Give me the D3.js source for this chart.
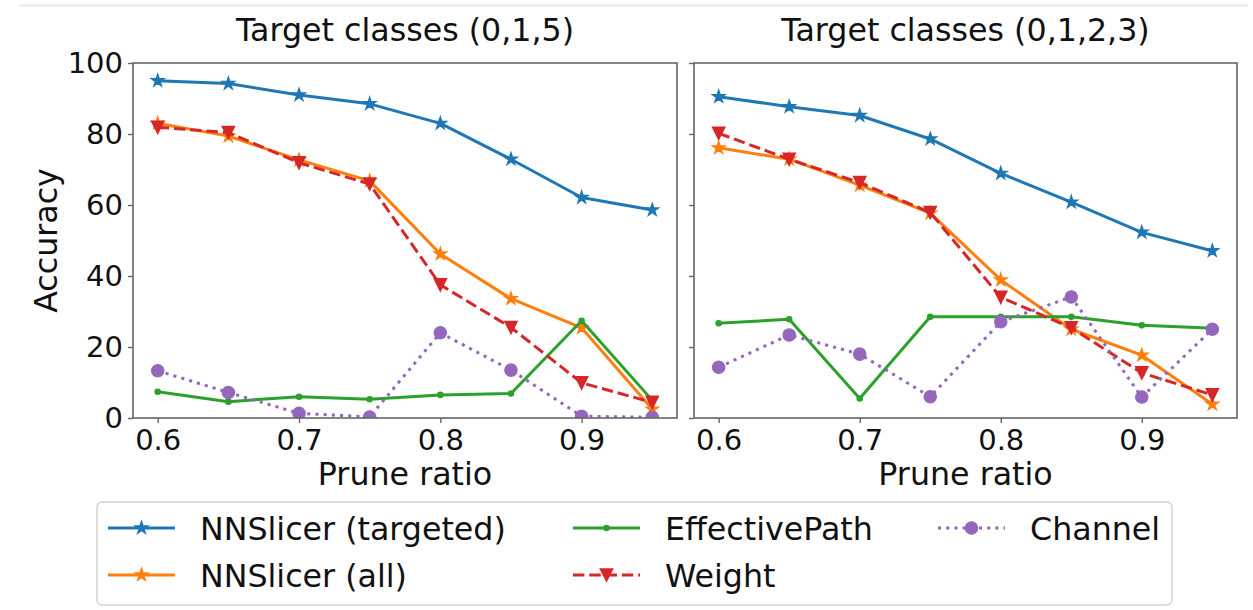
<!DOCTYPE html>
<html>
<head>
<meta charset="utf-8">
<script src="https://cdn.jsdelivr.net/npm/d3@7"></script>
<style>
  html, body { margin: 0; padding: 0; background: #fff; }
  svg { display: block; font-family: "DejaVu Sans", sans-serif; }
</style>
</head>
<body>
<svg id="chart" width="1253" height="610"></svg>
<script>
// ---------------- data ----------------
const pruneRatios = [0.6, 0.65, 0.7, 0.75, 0.8, 0.85, 0.9, 0.95];
const xTicks = [0.6, 0.7, 0.8, 0.9];
const yTicks = [0, 20, 40, 60, 80, 100];
const seriesNames = ["NNSlicer (targeted)", "NNSlicer (all)", "EffectivePath", "Weight", "Channel"];
const panelTitles = ["Target classes (0,1,5)", "Target classes (0,1,2,3)"];

// Panel 1: target classes (0,1,5)
const p1Targeted  = [95.0, 94.2, 91.0, 88.5, 83.0, 72.9, 62.1, 58.6];
const p1All       = [83.0, 79.4, 72.7, 66.8, 46.2, 33.6, 25.4, 2.5];
const p1Effective = [7.4, 4.6, 6.0, 5.3, 6.5, 6.9, 27.4, 5.0];
const p1Weight    = [81.9, 80.4, 71.9, 65.9, 37.5, 25.5, 9.9, 4.4];
const p1Channel   = [13.3, 7.2, 1.3, 0.3, 24.0, 13.5, 0.5, 0.2];

// Panel 2: target classes (0,1,2,3)
const p2Targeted  = [90.5, 87.7, 85.2, 78.6, 68.9, 60.8, 52.3, 47.1];
const p2All       = [76.1, 72.9, 65.6, 57.7, 38.9, 25.0, 17.7, 3.9];
const p2Effective = [26.7, 27.8, 5.5, 28.5, 28.5, 28.5, 26.1, 25.3];
const p2Weight    = [80.2, 72.9, 66.3, 57.9, 34.0, 25.4, 12.7, 6.5];
const p2Channel   = [14.3, 23.4, 18.0, 6.0, 27.1, 34.1, 5.9, 25.0];

// ---------------- styles ----------------
const styles = [
  { color: "#1f77b4", dash: null,         marker: "star" },
  { color: "#ff7f0e", dash: null,         marker: "star" },
  { color: "#2ca02c", dash: null,         marker: "point" },
  { color: "#d62728", dash: "11.4,4.9",   marker: "tri" },
  { color: "#9467bd", dash: "3.1,5.1",    marker: "circle" }
];

const panels = [
  { title: panelTitles[0], left: 133, right: 677, series: [p1Targeted, p1All, p1Effective, p1Weight, p1Channel], yLabels: true },
  { title: panelTitles[1], left: 694, right: 1237, series: [p2Targeted, p2All, p2Effective, p2Weight, p2Channel], yLabels: false }
];
const plotTop = 63, plotBottom = 418;
const tickFont = 29, labelFont = 31.7;
const frameColor = "#666";

const svg = d3.select("#chart");

// faint line at the very top of the picture
svg.append("line").attr("x1", 19).attr("x2", 1248).attr("y1", 5.5).attr("y2", 5.5)
  .attr("stroke", "#e8e8e8").attr("stroke-width", 2);

function starPath(r) {
  const ri = r * 0.381966;
  let p = "";
  for (let i = 0; i < 10; i++) {
    const rr = i % 2 === 0 ? r : ri;
    const a = -Math.PI / 2 + i * Math.PI / 5;
    p += (i === 0 ? "M" : "L") + (rr * Math.cos(a)).toFixed(2) + "," + (rr * Math.sin(a)).toFixed(2);
  }
  return p + "Z";
}
function triPath(r) {
  return `M${-r},${-r}L${r},${-r}L0,${r}Z`;
}
function drawMarker(g, kind, color, x, y) {
  if (kind === "star") {
    g.append("path").attr("d", starPath(6.2)).attr("transform", `translate(${x},${y})`)
      .attr("fill", color).attr("stroke", color).attr("stroke-width", 1.6).attr("stroke-linejoin", "miter");
  } else if (kind === "tri") {
    g.append("path").attr("d", triPath(6)).attr("transform", `translate(${x},${y})`)
      .attr("fill", color).attr("stroke", color).attr("stroke-width", 1.6);
  } else if (kind === "circle") {
    g.append("circle").attr("cx", x).attr("cy", y).attr("r", 6.2).attr("fill", color)
      .attr("stroke", color).attr("stroke-width", 1.2);
  } else if (kind === "point") {
    g.append("circle").attr("cx", x).attr("cy", y).attr("r", 2.6).attr("fill", color)
      .attr("stroke", color).attr("stroke-width", 1.4);
  }
}

panels.forEach((p, pi) => {
  const pad = (0.95 - 0.6) * 0.05;
  const x = d3.scaleLinear().domain([0.6 - pad, 0.95 + pad]).range([p.left, p.right]);
  const y = d3.scaleLinear().domain([0, 100]).range([plotBottom, plotTop]);

  const clipId = "clip" + pi;
  svg.append("clipPath").attr("id", clipId).append("rect")
    .attr("x", p.left).attr("y", plotTop).attr("width", p.right - p.left).attr("height", plotBottom - plotTop);

  // axes
  const xAxis = svg.append("g").attr("transform", `translate(0,${plotBottom})`)
    .call(d3.axisBottom(x).tickValues(xTicks).tickFormat(d3.format(".1f")).tickSizeInner(5).tickSizeOuter(0).tickPadding(6));
  const yAxis = svg.append("g").attr("transform", `translate(${p.left},0)`)
    .call(d3.axisLeft(y).tickValues(yTicks).tickFormat(p.yLabels ? d3.format("d") : () => "").tickSizeInner(5).tickSizeOuter(0).tickPadding(5));
  [xAxis, yAxis].forEach(a => {
    a.select(".domain").remove();
    a.selectAll(".tick line").attr("stroke", frameColor).attr("stroke-width", 1.4);
    a.selectAll(".tick text").attr("fill", "#111").style("font-size", tickFont + "px")
      .style("font-family", "DejaVu Sans");
  });

  // lines + markers
  const plot = svg.append("g").attr("clip-path", `url(#${clipId})`);
  p.series.forEach((vals, si) => {
    const st = styles[si];
    const pts = pruneRatios.map((r, i) => [x(r), y(vals[i])]);
    plot.append("path").attr("d", d3.line()(pts)).attr("fill", "none")
      .attr("stroke", st.color).attr("stroke-width", 3)
      .attr("stroke-linejoin", "round")
      .attr("stroke-linecap", st.dash ? "butt" : "square")
      .attr("stroke-dasharray", st.dash);
    pts.forEach(pt => drawMarker(plot, st.marker, st.color, pt[0], pt[1]));
  });

  // frame
  svg.append("rect").attr("x", p.left).attr("y", plotTop).attr("width", p.right - p.left).attr("height", plotBottom - plotTop)
    .attr("fill", "none").attr("stroke", frameColor).attr("stroke-width", 1.6);

  // title
  svg.append("text").attr("x", (p.left + p.right) / 2).attr("y", 41).attr("text-anchor", "middle")
    .style("font-size", labelFont + "px").attr("fill", "#111").text(p.title);
  // x label
  svg.append("text").attr("x", (p.left + p.right) / 2).attr("y", 485).attr("text-anchor", "middle")
    .style("font-size", labelFont + "px").attr("fill", "#111").text("Prune ratio");
});

// y label
svg.append("text").attr("transform", `translate(57,240.5) rotate(-90)`).attr("text-anchor", "middle")
  .style("font-size", labelFont + "px").attr("fill", "#111").text("Accuracy");

// legend
const lg = svg.append("g");
lg.append("rect").attr("x", 97).attr("y", 502).attr("width", 1075).attr("height", 103).attr("rx", 5)
  .attr("fill", "#fff").attr("stroke", "#d4d4d4").attr("stroke-width", 1.5);
const colX = [108, 573, 938];
const rowY = [528, 575];
seriesNames.forEach((name, i) => {
  const col = Math.floor(i / 2), row = i % 2;
  const x0 = colX[col], x1 = x0 + 67, yy = rowY[row];
  const st = styles[i];
  lg.append("line").attr("x1", x0).attr("x2", x1).attr("y1", yy).attr("y2", yy)
    .attr("stroke", st.color).attr("stroke-width", 3).attr("stroke-dasharray", st.dash);
  drawMarker(lg, st.marker, st.color, (x0 + x1) / 2, yy);
  lg.append("text").attr("x", x1 + 25).attr("y", yy + 11.5)
    .style("font-size", labelFont + "px").attr("fill", "#111").text(name);
});
</script>
</body>
</html>
